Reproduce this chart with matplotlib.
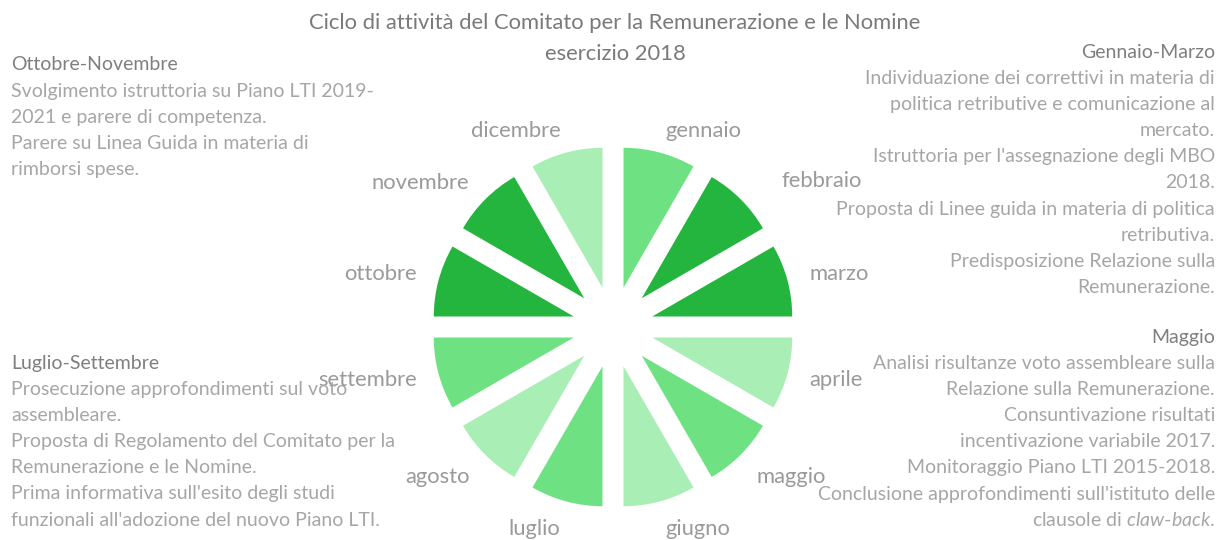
import matplotlib.pyplot as plt

# months of the cycle (equal slices), colour shade per month
months = ['gennaio', 'febbraio', 'marzo', 'aprile', 'maggio', 'giugno',
          'luglio', 'agosto', 'settembre', 'ottobre', 'novembre', 'dicembre']
slice_values = [1, 1, 1, 1, 1, 1, 1, 1, 1, 1, 1, 1]
shade = ['mid', 'dark', 'dark', 'light', 'mid', 'light',
         'mid', 'light', 'mid', 'dark', 'dark', 'light']

title_lines = ['Ciclo di attività del Comitato per la Remunerazione e le Nomine',
               'esercizio 2018']

head_gm = 'Gennaio-Marzo'
body_gm = ['Individuazione dei correttivi in materia di',
           'politica retributive e comunicazione al',
           'mercato.',
           "Istruttoria per l'assegnazione degli MBO",
           '2018.',
           'Proposta di Linee guida in materia di politica',
           'retributiva.',
           'Predisposizione Relazione sulla',
           'Remunerazione.']

head_mag = 'Maggio'
body_mag = ['Analisi risultanze voto assembleare sulla',
            'Relazione sulla Remunerazione.',
            'Consuntivazione risultati',
            'incentivazione variabile 2017.',
            'Monitoraggio Piano LTI 2015-2018.',
            "Conclusione approfondimenti sull'istituto delle",
            r'clausole di $\mathit{claw}$-$\mathit{back}$.']

head_on = 'Ottobre-Novembre'
body_on = ['Svolgimento istruttoria su Piano LTI 2019-',
           '2021 e parere di competenza.',
           'Parere su Linea Guida in materia di',
           'rimborsi spese.']

head_ls = 'Luglio-Settembre'
body_ls = ['Prosecuzione approfondimenti sul voto',
           'assembleare.',
           'Proposta di Regolamento del Comitato per la',
           'Remunerazione e le Nomine.',
           "Prima informativa sull'esito degli studi",
           "funzionali all'adozione del nuovo Piano LTI."]

palette = {'dark': '#23B53D', 'mid': '#6EE283', 'light': '#A9EEB5'}

plt.rcParams['font.family'] = ['Lato', 'DejaVu Sans']
plt.rcParams['mathtext.fontset'] = 'custom'
plt.rcParams['mathtext.it'] = 'Lato:italic'
plt.rcParams['mathtext.rm'] = 'Lato'

W, H = 1218, 540
fig = plt.figure(figsize=(W / 100, H / 100), dpi=100)

# pie axes: radius 140 px, centre at (613, 327) px
R = 140.0
cx, cy = 613, 327
ax = fig.add_axes([0, 0, 1, 1])
wedges, labels = ax.pie(slice_values, colors=[palette[s] for s in shade],
                        explode=[0.29] * 12, startangle=90, counterclock=False,
                        radius=1, labels=months, labeldistance=1.16,
                        wedgeprops=dict(linewidth=0),
                        textprops=dict(color='#9a9a9a', fontsize=15.8))
# small nudges so labels sit like in the original
for t in labels:
    x, y = t.get_position()
    if y < -0.5:
        y -= 6 / R
    if t.get_text() == 'febbraio':
        x += 25 / R
        y += 2 / R
    t.set_position((x, y))

ax.set_xlim(-cx / R, (W - cx) / R)
ax.set_ylim(-(H - cy) / R, cy / R)
ax.set_aspect('equal')
ax.axis('off')


def px(x, y):
    return x / W, 1 - y / H


# title
for i, line in enumerate(title_lines):
    fig.text(*px(615, 23 + i * 31), line, ha='center', va='center',
             fontsize=15.8, color='#7a7a7a')

head_col = '#7f7f7f'
body_col = '#a6a6a6'
fs = 14.0
dy = 26.2


def block(x, y0, head, body, ha):
    fig.text(*px(x, y0), head, ha=ha, va='center', fontsize=fs,
             color=head_col)
    for i, line in enumerate(body):
        fig.text(*px(x, y0 + (i + 1) * dy), line, ha=ha, va='center',
                 fontsize=fs, color=body_col)


block(1215, 52, head_gm, body_gm, 'right')
block(1215, 337, head_mag, body_mag, 'right')
block(11, 65, head_on, body_on, 'left')
block(11, 363, head_ls, body_ls, 'left')

fig.savefig('out.png', dpi=100)
